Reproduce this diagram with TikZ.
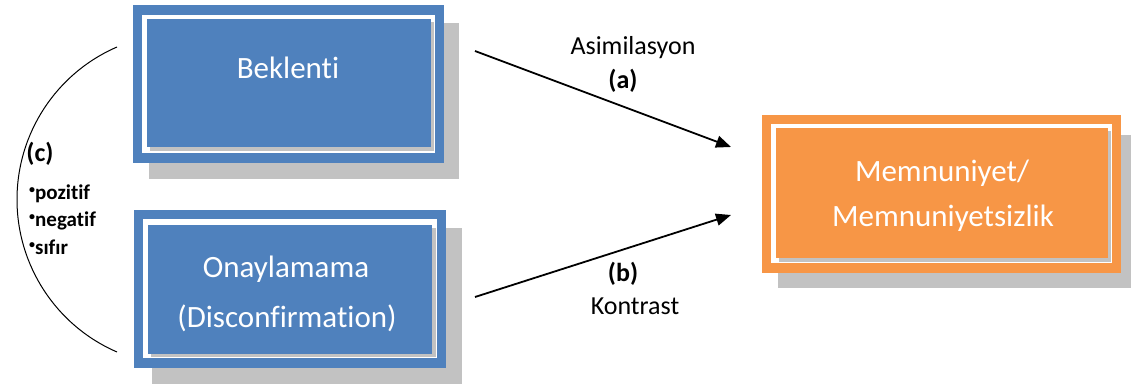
\documentclass[tikz,border=0pt]{standalone}
\usepackage{fontspec}
\setmainfont{Carlito}[Ligatures={NoCommon,NoContextual}]
\usetikzlibrary{arrows.meta}
\definecolor{boxblue}{HTML}{4F81BD}
\definecolor{boxorange}{HTML}{F79646}
\definecolor{dropgray}{HTML}{C2C2C2}
\begin{document}
\begin{tikzpicture}[x=1pt,y=-1pt,
  panel/.style={rectangle, inner sep=0pt, outer sep=0pt, draw=none},
  boxtext/.style={anchor=base, text=white, inner sep=0pt,
    font=\fontsize{31}{36}\selectfont},
  arrowtext/.style={anchor=base, inner sep=0pt,
    font=\fontsize{26}{30}\selectfont},
  boldtext/.style={anchor=base, inner sep=0pt,
    font=\fontsize{26}{30}\selectfont\bfseries},
  itemtext/.style={anchor=base west, inner sep=0pt,
    font=\fontsize{21}{25}\selectfont\bfseries},
  link/.style={draw=black, line width=1.8pt,
    -{Triangle[length=15pt, width=12pt]}}
]
\useasboundingbox (0,0) rectangle (1135,387);

% ---- Beklenti
\fill[dropgray] (149,23) rectangle (459,179);
\node[panel, fill=boxblue, minimum width=311pt, minimum height=158pt] (bek) at (288.5,84) {};
\fill[white] (142,15) rectangle (435,153);
\fill[dropgray] (150,22) rectangle (434,151);
\fill[boxblue] (147,19) rectangle (431,147);
\node[boxtext] (bekT) at (288,79) {Beklenti};

% ---- Onaylamama
\fill[dropgray] (152,228) rectangle (462,384);
\node[panel, fill=boxblue, minimum width=312pt, minimum height=158pt] (ony) at (290,289) {};
\fill[white] (143,219) rectangle (437,358);
\fill[dropgray] (151,228) rectangle (436,357);
\fill[boxblue] (148,225) rectangle (432,354);
\node[boxtext] (onyT1) at (286,278) {Onaylamama};
\node[boxtext] (onyT2) at (287,327) {(Disconfirmation)};

% ---- Memnuniyet / Memnuniyetsizlik
\fill[dropgray] (778,135) rectangle (1131,288);
\node[panel, fill=boxorange, minimum width=359pt, minimum height=158pt] (sat) at (941.5,194) {};
\fill[white] (771,124) rectangle (1112,263);
\fill[dropgray] (779,131) rectangle (1111,262);
\fill[boxorange] (776,128) rectangle (1108,258);
\node[boxtext] (satT1) at (942,182) {Memnuniyet/};
\node[boxtext] (satT2) at (943,227) {Memnuniyetsizlik};

% ---- arrows
\coordinate (aFrom) at (475,51);
\coordinate (aTo) at (731,147);
\coordinate (bFrom) at (475,297);
\coordinate (bTo) at (731,215);
\draw[link] (aFrom) -- (aTo);
\draw[link] (bFrom) -- (bTo);
\node[arrowtext] (asim) at (633,55) {Asimilasyon};
\node[boldtext] (labA) at (623,89) {(a)};
\node[boldtext] (labB) at (623,282) {(b)};
\node[arrowtext] (kont) at (635,315) {Kontrast};

% ---- correlation arc
\coordinate (arcTop) at (117,47);
\coordinate (arcBot) at (117,352);
\draw[line width=1pt] (arcTop) .. controls (56.2,73.3) and (17,133.3) .. (17,199.5)
  .. controls (17,265.7) and (56.2,325.7) .. (arcBot);
\node[boldtext] (labC) at (40,162) {(c)};
\node[itemtext] (pos) at (29,200) {\raisebox{0.3em}{\fontsize{12}{12}\selectfont•}pozitif};
\node[itemtext] (neg) at (29,227) {\raisebox{0.3em}{\fontsize{12}{12}\selectfont•}negatif};
\node[itemtext] (zer) at (29,255) {\raisebox{0.3em}{\fontsize{12}{12}\selectfont•}sıfır};
\end{tikzpicture}
\end{document}
